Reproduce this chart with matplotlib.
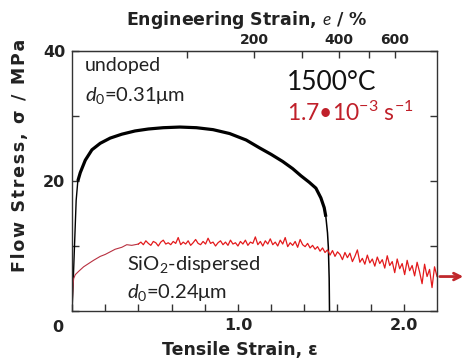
import numpy as np
import matplotlib
matplotlib.use("Agg")
import matplotlib.pyplot as plt
from matplotlib.ticker import FixedLocator, NullFormatter

plt.rcParams['mathtext.fontset'] = 'custom'
plt.rcParams['mathtext.rm'] = 'Lato'
plt.rcParams['mathtext.it'] = 'Lato:italic'

# undoped curve
eps_undoped = [0.0, 0.005, 0.015, 0.025, 0.035, 0.05, 0.08, 0.12, 0.17, 0.23, 0.30,
               0.38, 0.46, 0.55, 0.65, 0.75, 0.85, 0.95, 1.05, 1.13, 1.20, 1.27,
               1.33, 1.38, 1.43, 1.47, 1.50, 1.52, 1.53, 1.54, 1.545, 1.55, 1.552]
sig_undoped = [0, 3, 10, 17, 20, 21.3, 23.2, 24.8, 25.8, 26.6, 27.2,
               27.7, 28.0, 28.2, 28.3, 28.2, 27.9, 27.3, 26.3, 25.1, 24.1, 23.0,
               21.9, 20.8, 19.8, 18.9, 17.4, 15.9, 14.5, 12.0, 9.8, 5.0, 0]

# SiO2-dispersed, smooth start
eps_sio2_start = [0.0, 0.005, 0.01, 0.02, 0.04, 0.07, 0.10, 0.13, 0.17, 0.20,
                  0.23, 0.26, 0.30, 0.33, 0.36, 0.40]
sig_sio2_start = [0.0, 3.5, 5.0, 5.6, 6.1, 6.8, 7.3, 7.8, 8.4, 8.7,
                  9.1, 9.5, 9.8, 10.2, 10.1, 10.3]

# SiO2-dispersed, noisy part from 0.40 to 2.20 (step 0.015)
eps_sio2_noisy = np.linspace(0.40, 2.20, 121)
sig_sio2_noisy = [10.3, 10.6, 10.2, 10.8, 10.4, 10.1, 10.7, 10.5, 10.0, 10.6, 10.9, 10.3, 10.5, 10.2,
                  10.7, 10.4, 11.3, 10.2, 10.6, 10.3, 10.8, 10.1, 10.5, 11.0, 10.4, 10.2, 10.7, 10.3,
                  11.2, 10.4, 10.6, 10.0, 10.5, 10.8, 10.2, 10.6, 10.1, 10.9, 10.3, 10.5, 10.0, 10.7,
                  10.3, 10.9, 10.1, 10.6, 10.4, 11.4, 10.2, 10.7, 10.0, 10.8, 10.3, 11.1, 10.2, 10.6,
                  10.0, 10.9, 10.3, 11.3, 9.9, 10.5, 10.1, 10.7, 9.8, 11.0, 10.2, 9.9, 10.4, 9.7,
                  10.1, 9.5, 9.9, 9.2, 9.7, 9.0, 9.4, 8.6, 9.3, 8.4, 9.1, 8.7, 7.9, 9.0,
                  8.2, 8.9, 7.6, 8.4, 9.4, 7.5, 8.1, 7.2, 8.6, 7.4, 8.0, 6.9, 8.3, 7.3,
                  7.9, 6.6, 8.5, 7.0, 7.6, 5.9, 8.0, 6.5, 7.3, 5.6, 7.8, 6.2, 7.0, 5.4,
                  7.5, 6.0, 4.2, 7.2, 5.3, 6.4, 3.6, 6.8, 5.3]

eng_major = [200, 400, 600]
eng_minor = [100, 300, 500]

fig = plt.figure(figsize=(4.67, 3.62), dpi=100)
ax = fig.add_axes([0.1542, 0.1409, 0.7816, 0.7182])

ax.plot(eps_undoped[:5], sig_undoped[:5], color='black', lw=1.0)
ax.plot(eps_undoped[4:29], sig_undoped[4:29], color='black', lw=2.3, solid_capstyle='butt')
ax.plot(eps_undoped[28:], sig_undoped[28:], color='black', lw=1.1)

ax.plot(eps_sio2_start, sig_sio2_start, color='#b83040', lw=0.8)
ax.plot(eps_sio2_noisy, sig_sio2_noisy, color='#e31a1c', lw=0.9)

ax.annotate('', xy=(2.375, 5.3), xytext=(2.2, 5.3),
            arrowprops=dict(arrowstyle='->', color='#c0282c', lw=2, mutation_scale=12),
            annotation_clip=False)

ax.set_xlim(0, 2.2)
ax.set_ylim(0, 40)
ax.set_xticks([0, 1, 2])
ax.set_xticklabels(['', '1.0', '2.0'])
ax.set_xticks(np.arange(0.2, 2.2, 0.2), minor=True)
ax.set_yticks([0, 20, 40])
ax.set_yticklabels(['', '20', '40'])
ax.set_yticks([10, 30], minor=True)
ax.tick_params(which='both', direction='in', top=False, right=True, width=1, color='#333333')
ax.tick_params(which='major', length=5, labelsize=11.5, pad=5, labelcolor='#222222')
ax.tick_params(which='minor', length=5)
for lab in ax.get_xticklabels() + ax.get_yticklabels():
    lab.set_fontweight('bold')
for s in ax.spines.values():
    s.set_color('#333333')
    s.set_linewidth(1)

sec = ax.secondary_xaxis('top', functions=(lambda x: (np.exp(x) - 1) * 100,
                                           lambda e: np.log1p(np.asarray(e) / 100)))
sec.xaxis.set_major_locator(FixedLocator(eng_major))
sec.xaxis.set_minor_locator(FixedLocator(eng_minor))
sec.xaxis.set_minor_formatter(NullFormatter())
sec.tick_params(which='both', direction='in', length=5, width=1, color='#333333',
                labelsize=10, pad=3, labelcolor='#222222')
for lab in sec.get_xticklabels():
    lab.set_fontweight('bold')
sec.spines['top'].set_color('#333333')

lbl = dict(fontsize=12.5, fontweight='bold', color='#222222', ha='center', va='center')
fig.text(58 / 467, 1 - 327 / 362, '0', fontsize=11.5, fontweight='bold', color='#222222',
         ha='center', va='center')
fig.text(247 / 467, 1 - 20 / 362, 'Engineering Strain, $\\mathit{e}$ / %', **lbl)
fig.text(240 / 467, 1 - 350 / 362, 'Tensile Strain, ε', **lbl)
fig.text(20 / 467, 1 - 155 / 362, '\u200a'.join('Flow Stress, σ / MPa'), rotation=90, **lbl)

txt = dict(family=['Lato', 'DejaVu Sans'], ha='left', va='center')
ax.text(0.078, 37.8, 'undoped', fontsize=14, color='#222222', **txt)
ax.text(0.078, 33.2, r'$d_0$=0.31μm', fontsize=14.5, color='#222222', **txt)
ax.text(1.295, 35.1, '1500°C', fontsize=19, color='#111111', **txt)
ax.text(1.295, 30.5, r'1.7•10$^{-3}$ s$^{-1}$', fontsize=16.5, color='#c0202a', **txt)
ax.text(0.33, 7.1, r'SiO$_2$-dispersed', fontsize=14.5, color='#222222', **txt)
ax.text(0.33, 2.8, r'$d_0$=0.24μm', fontsize=14.5, color='#222222', **txt)

fig.savefig('out.png', dpi=100)
